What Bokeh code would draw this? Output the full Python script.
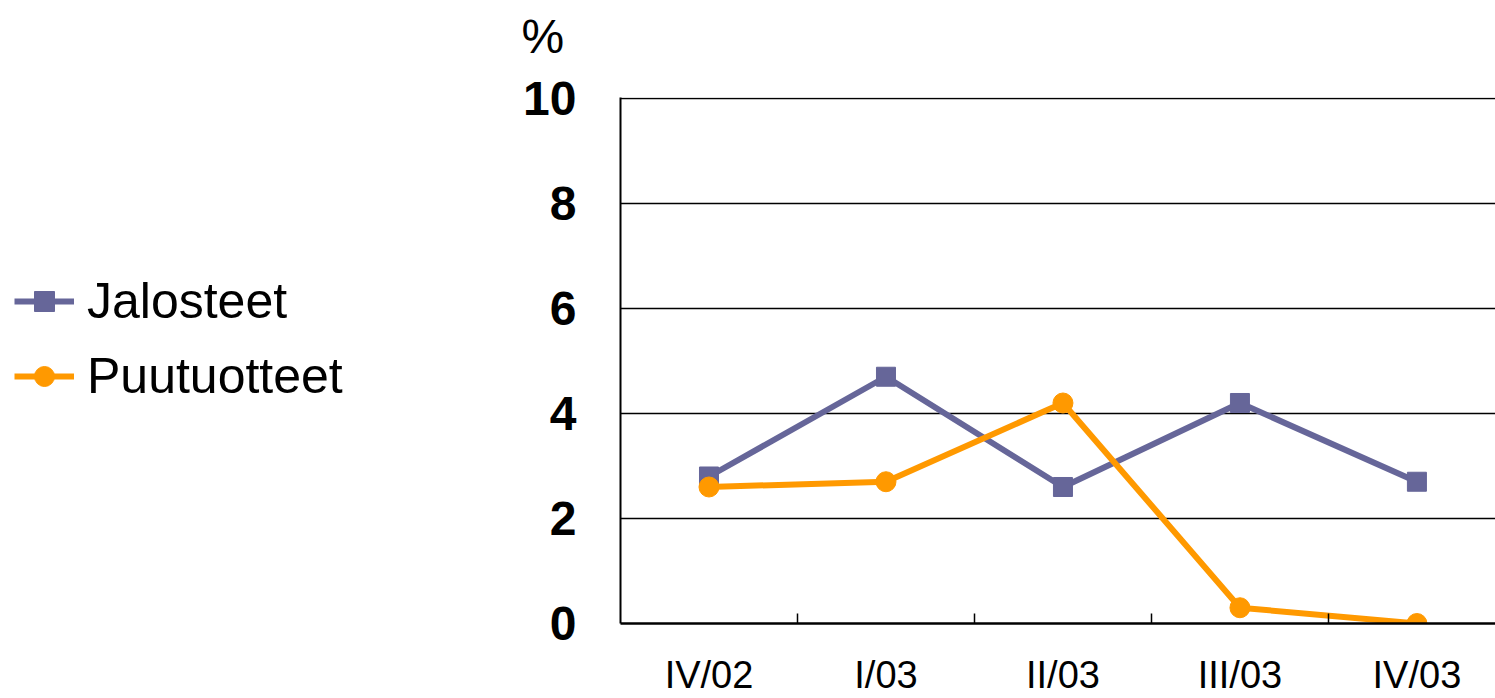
from bokeh.plotting import figure
from bokeh.layouts import row, column
from bokeh.models import FixedTicker, Range1d, Legend, LegendItem, Label
from bokeh.embed import file_html
from bokeh.resources import INLINE

categories = ["IV/02", "I/03", "II/03", "III/03", "IV/03"]
jalosteet = [2.8, 4.7, 2.6, 4.2, 2.7]
puutuotteet = [2.6, 2.7, 4.2, 0.3, 0.0]
y_ticks = [0, 2, 4, 6, 8, 10]

purple = "#666699"
orange = "#FF9900"
FONT = "Liberation Sans"

xs = [i + 0.5 for i in range(len(categories))]

TOP_H = 68
MAIN_H = 698 - TOP_H

p = figure(width=975, height=MAIN_H, output_backend="svg", toolbar_location=None,
           x_range=Range1d(0, 4.944), y_range=Range1d(0, 10.019),
           min_border_left=100, min_border_right=0, min_border_top=29,
           min_border_bottom=74)
p.outline_line_color = None
p.background_fill_color = "white"
p.border_fill_color = "white"

# grid
p.xgrid.grid_line_color = None
p.ygrid.ticker = FixedTicker(ticks=y_ticks)
p.ygrid.grid_line_color = "black"
p.ygrid.grid_line_width = 1.5

# y axis
p.yaxis.ticker = FixedTicker(ticks=y_ticks)
p.yaxis.major_tick_out = 0
p.yaxis.major_tick_in = 0
p.yaxis.minor_tick_out = 0
p.yaxis.minor_tick_in = 0
p.yaxis.axis_line_width = 2
p.yaxis.axis_line_color = "black"
p.yaxis.major_label_text_font = FONT
p.yaxis.major_label_text_font_style = "bold"
p.yaxis.major_label_text_font_size = "48px"
p.yaxis.major_label_text_color = "black"
p.yaxis.major_label_standoff = 44

# x axis
p.xaxis.ticker = FixedTicker(ticks=xs, minor_ticks=[1, 2, 3, 4])
p.xaxis.major_label_overrides = {x: c for x, c in zip(xs, categories)}
p.xaxis.major_tick_out = 0
p.xaxis.major_tick_in = 0
p.xaxis.minor_tick_out = 0
p.xaxis.minor_tick_in = 10
p.xaxis.minor_tick_line_width = 1.5
p.xaxis.minor_tick_line_color = "black"
p.xaxis.axis_line_width = 2.5
p.xaxis.axis_line_color = "black"
p.xaxis.major_label_text_font = FONT
p.xaxis.major_label_text_font_size = "38px"
p.xaxis.major_label_text_color = "black"
p.xaxis.major_label_standoff = 30

# lines
p.line(xs, jalosteet, line_color=purple, line_width=6)
p.scatter(xs, jalosteet, marker="square", size=19, fill_color=purple, line_color=purple)
p.line(xs, puutuotteet, line_color=orange, line_width=6)
p.scatter(xs, puutuotteet, marker="circle", size=20, fill_color=orange, line_color=orange)

# top strip with the "%" unit label
t = figure(width=1495, height=TOP_H, output_backend="svg", toolbar_location=None,
           x_range=Range1d(0, 1495), y_range=Range1d(0, TOP_H),
           min_border_left=0, min_border_right=0, min_border_top=0,
           min_border_bottom=0, x_axis_location=None, y_axis_location=None)
t.outline_line_color = None
t.xgrid.grid_line_color = None
t.ygrid.grid_line_color = None
t.add_layout(Label(x=521, y=TOP_H - 36, text="%", text_font=FONT,
                   text_font_size="48px", text_color="black",
                   text_baseline="middle", text_align="left"))

# legend panel (left figure)
q = figure(width=520, height=MAIN_H, output_backend="svg", toolbar_location=None,
           x_range=Range1d(10, 11), y_range=Range1d(10, 11),
           min_border_left=0, min_border_right=0, min_border_top=0,
           min_border_bottom=0, x_axis_location=None, y_axis_location=None)
q.outline_line_color = None
q.xgrid.grid_line_color = None
q.ygrid.grid_line_color = None
q.border_fill_color = "white"

r1l = q.line(xs, jalosteet, line_color=purple, line_width=6, visible=False)
r1m = q.scatter(xs, jalosteet, marker="square", size=19, fill_color=purple,
                line_color=purple, visible=False)
r2l = q.line(xs, puutuotteet, line_color=orange, line_width=6, visible=False)
r2m = q.scatter(xs, puutuotteet, marker="circle", size=20, fill_color=orange,
                line_color=orange, visible=False)

legend = Legend(items=[LegendItem(label="Jalosteet", renderers=[r1l, r1m]),
                       LegendItem(label="Puutuotteet", renderers=[r2l, r2m])],
                location=(14, 218), orientation="vertical")
legend.border_line_color = None
legend.background_fill_alpha = 0
legend.label_text_font = FONT
legend.label_text_font_size = "50px"
legend.label_text_color = "black"
legend.glyph_width = 60
legend.glyph_height = 50
legend.label_standoff = 13
legend.spacing = 17
legend.padding = 0
legend.margin = 0
legend.label_height = 50
q.add_layout(legend, "center")

layout = column(t, row(q, p))
open("out.html", "w").write(file_html(layout, INLINE))
